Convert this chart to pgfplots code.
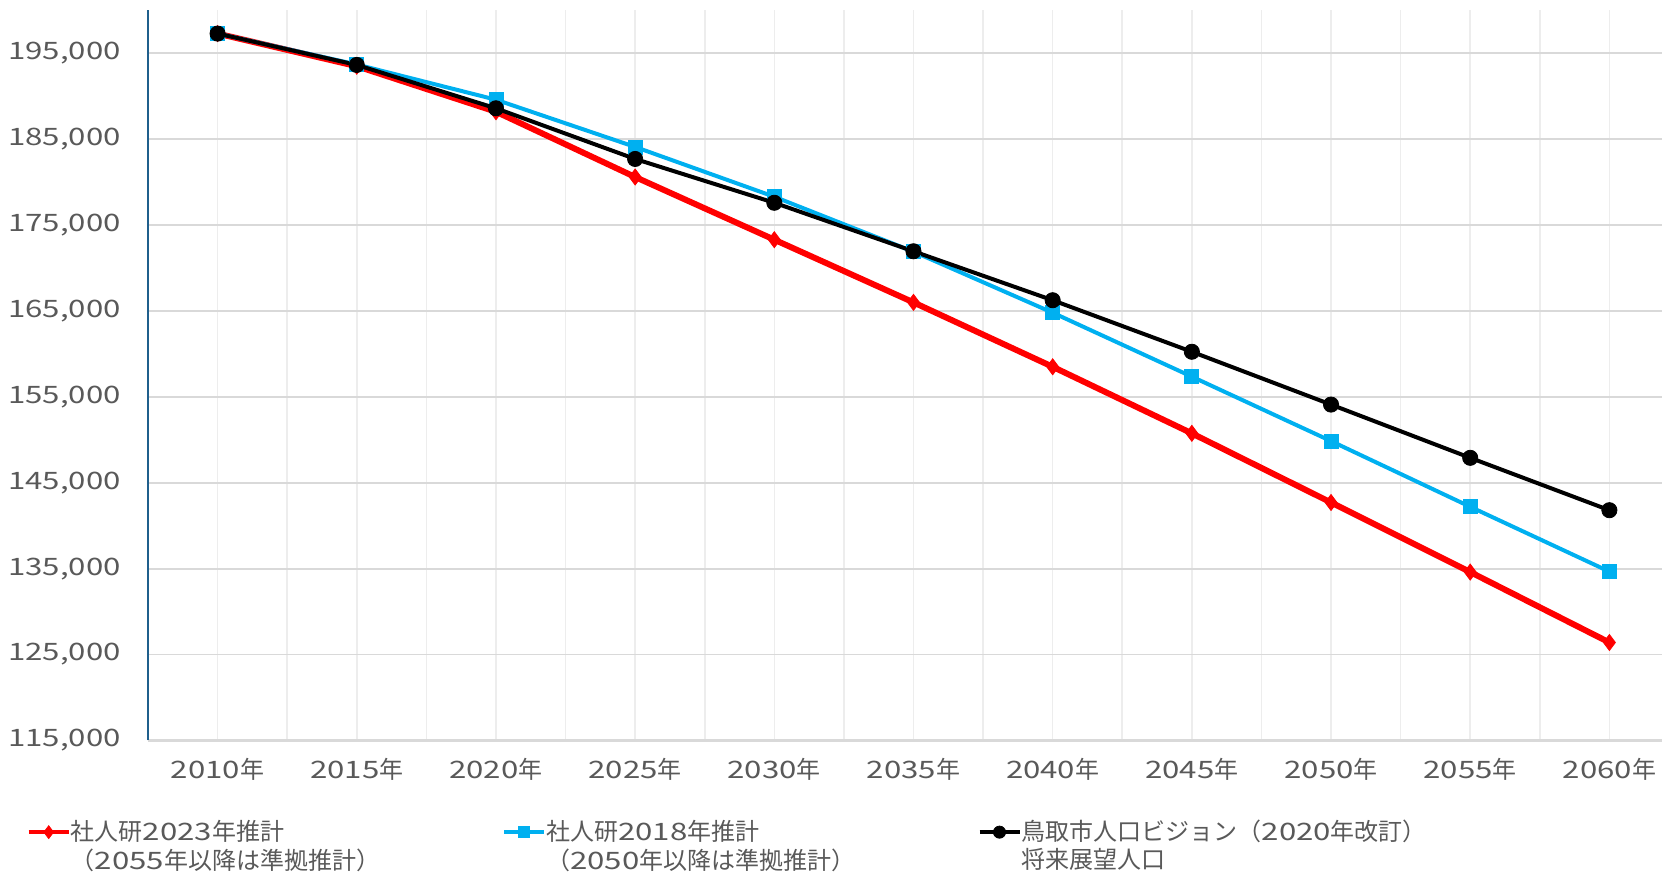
\documentclass[border=0pt]{standalone}
\usepackage{fontspec}
\setmainfont{Noto Sans CJK JP}
\newfontfamily\dg{Noto Sans CJK JP}[FakeStretch=1.3]
\usepackage{pgfplots}
\pgfplotsset{compat=1.18}
\definecolor{txt}{HTML}{595959}
\definecolor{grd}{HTML}{D9D9D9}
\definecolor{vgrd}{HTML}{EDEDED}
\definecolor{axb}{HTML}{1F5F8C}
\definecolor{sky}{HTML}{00B0F0}

\newcommand{\lbl}{\fontsize{12}{14}\selectfont}
\newcommand{\entry}[2]{\makebox[215.5pt][l]{\begin{tabular}[t]{@{}l@{}}#1\\#2\end{tabular}}}

\begin{document}
\begin{tikzpicture}
\begin{axis}[
    scale only axis,
    width=757pt, height=365pt,
    xmin=-0.5, xmax=10.378,
    ymin=115000, ymax=200000,
    axis x line*=bottom, axis y line*=left,
    x axis line style={draw=grd, line width=1.2pt, -},
    y axis line style={draw=axb, line width=0.9pt, -},
    xtick={0,...,10},
    xticklabels={{\dg 2010}年,{\dg 2015}年,{\dg 2020}年,{\dg 2025}年,{\dg 2030}年,{\dg 2035}年,{\dg 2040}年,{\dg 2045}年,{\dg 2050}年,{\dg 2055}年,{\dg 2060}年},
    minor xtick={0.5,1.5,...,9.5},
    ytick={115000,125000,...,195000},
    yticklabels={{115,000},{125,000},{135,000},{145,000},{155,000},{165,000},{175,000},{185,000},{195,000}},
    scaled y ticks=false,
    major tick length=0pt, minor tick length=0pt,
    xmajorgrids, xminorgrids, ymajorgrids,
    major x grid style={draw=vgrd, line width=0.8pt},
    minor x grid style={draw=vgrd, line width=0.8pt},
    major y grid style={draw=grd, line width=0.9pt},
    yticklabel style={font=\dg\lbl, text=txt, xshift=-10pt},
    xticklabel style={font=\lbl, text=txt, yshift=-5.5pt},
    legend columns=3,
    legend image code/.code={
        \draw[mark repeat=2,mark phase=2,#1,line width=2.2pt,every mark/.append style={scale=0.8}] plot coordinates {(0pt,4pt) (10pt,4pt) (20pt,4pt)};
    },
    legend style={draw=none, fill=none, inner sep=0pt, column sep=0pt,
        cells={anchor=base west},
        nodes={inner sep=0pt, text=txt, font=\lbl},
        at={(axis description cs:-0.0805,-0.108)}, anchor=north west},
]
\addplot[red, line width=3pt, mark=diamond*, mark size=4pt, mark options={solid, line width=0.4pt}] coordinates {
    (0,197300) (1,193500) (2,188200) (3,180600) (4,173300) (5,166000)
    (6,158500) (7,150750) (8,142700) (9,134600) (10,126400)
};
\addlegendentry{\entry{社人研{\dg 2023}年推計}{（{\dg 2055}年以降は準拠推計）}}
\addplot[sky, line width=2pt, mark=square*, mark size=3.5pt, mark options={line width=0.4pt}] coordinates {
    (0,197300) (1,193700) (2,189600) (3,184100) (4,178300) (5,171900)
    (6,164800) (7,157350) (8,149850) (9,142200) (10,134650)
};
\addlegendentry{\entry{社人研{\dg 2018}年推計}{（{\dg 2050}年以降は準拠推計）}}
\addplot[black, line width=2pt, mark=*, mark size=3.8pt, mark options={line width=0.4pt}] coordinates {
    (0,197300) (1,193650) (2,188600) (3,182700) (4,177600) (5,171950)
    (6,166250) (7,160250) (8,154100) (9,147900) (10,141800)
};
\addlegendentry{\entry{鳥取市人口ビジョン（{\dg 2020}年改訂）}{将来展望人口}}
\end{axis}
\pgfresetboundingbox
\path ([shift={(-74pt,-65.85pt)}]current axis.south west) rectangle ([shift={(0pt,5.2pt)}]current axis.north east);
\end{tikzpicture}
\end{document}
